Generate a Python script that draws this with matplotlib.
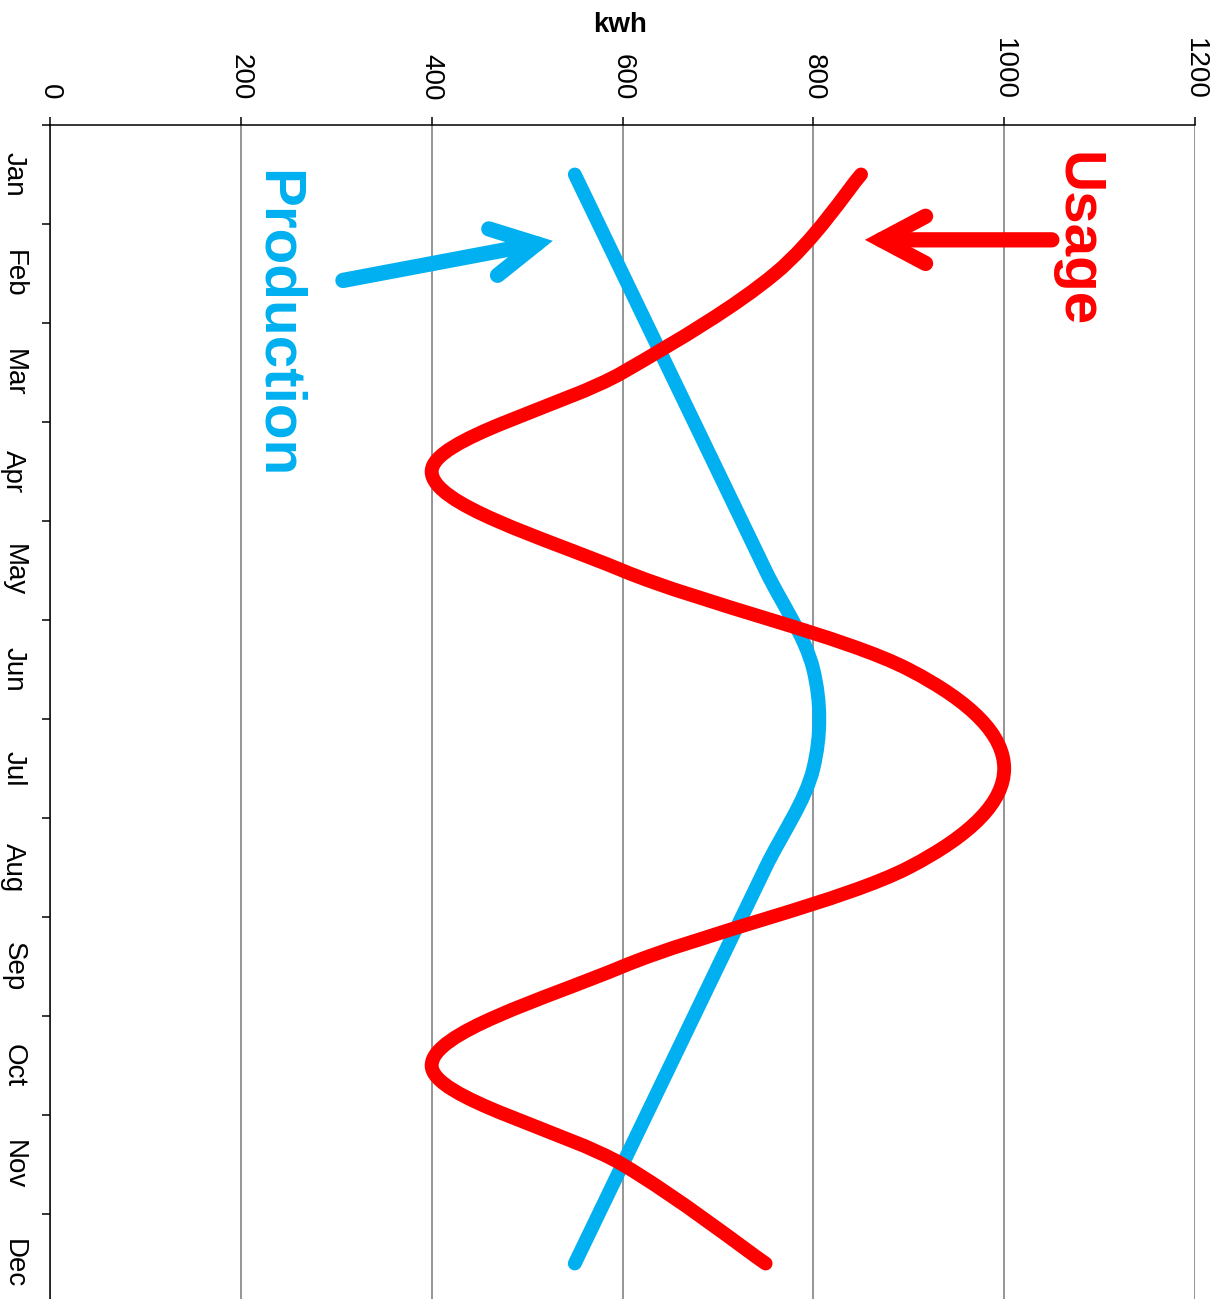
import numpy as np
import matplotlib.pyplot as plt
from matplotlib.path import Path
from matplotlib.patches import PathPatch
from matplotlib.ticker import FixedLocator, NullFormatter

plt.rcParams['font.family'] = ['Liberation Sans', 'DejaVu Sans']

months = ['Jan', 'Feb', 'Mar', 'Apr', 'May', 'Jun',
          'Jul', 'Aug', 'Sep', 'Oct', 'Nov', 'Dec']
usage = [850, 760, 600, 400, 600, 900, 1000, 900, 600, 400, 600, 750]
production = [550, 600, 650, 700, 750, 800, 800, 750, 700, 650, 600, 550]
kwh_ticks = [0, 200, 400, 600, 800, 1000, 1200]

RED = '#ff0000'
BLUE = '#00b0f0'


def smooth_path(values):
    # Catmull-Rom curve through (value, month index) as cubic beziers
    pts = np.column_stack([values, np.arange(len(values))]).astype(float)
    padded = np.vstack([pts[0], pts, pts[-1]])
    verts = [pts[0]]
    codes = [Path.MOVETO]
    for i in range(len(pts) - 1):
        p0, p1, p2, p3 = padded[i], padded[i + 1], padded[i + 2], padded[i + 3]
        verts += [p1 + (p2 - p0) / 6, p2 - (p3 - p1) / 6, p2]
        codes += [Path.CURVE4] * 3
    return Path(verts, codes)


fig = plt.figure(figsize=(12.2, 12.99), dpi=100)
ax = fig.add_axes([50 / 1220, -14 / 1299, 1145 / 1220, 1188 / 1299])

ax.set_xlim(0, 1200)
ax.set_ylim(11.5, -0.5)

for vals, col in [(production, BLUE), (usage, RED)]:
    ax.add_patch(PathPatch(smooth_path(vals), fill=False, edgecolor=col,
                           lw=10, capstyle='round', joinstyle='round', zorder=3))

# value axis on top, labels turned sideways
ax.xaxis.tick_top()
ax.set_xticks(kwh_ticks)
ax.set_xticklabels([str(t) for t in kwh_ticks], rotation=-90, fontsize=20)
ax.tick_params(axis='x', length=6, width=1.1, pad=12, color='black')
ax.grid(axis='x', color='#787878', lw=1.1)
ax.set_axisbelow(True)

# month labels centred in bands, tick marks between bands
ax.yaxis.set_major_locator(FixedLocator(range(12)))
ax.set_yticklabels(months, rotation=-90, va='center', fontsize=20)
ax.yaxis.set_minor_locator(FixedLocator(np.arange(-0.5, 12, 1)))
ax.yaxis.set_minor_formatter(NullFormatter())
ax.tick_params(axis='y', which='major', length=0, pad=17)
ax.tick_params(axis='y', which='minor', length=6, width=1.1, color='black')

for side in ['right', 'bottom']:
    ax.spines[side].set_visible(False)
for side in ['top', 'left']:
    ax.spines[side].set_linewidth(1.1)

fig.text(620 / 1220, 1 - 25 / 1299, 'kwh', ha='center', va='center',
         fontsize=20, fontweight='bold')

# series callouts
ax.text(1076, 0.66, 'Usage', color=RED, fontsize=42, fontweight='bold',
        rotation=-90, ha='center', va='center')
ax.text(237, 1.51, 'Production', color=BLUE, fontsize=42, fontweight='bold',
        rotation=-90, ha='center', va='center')

arrow = '->,head_length=1.6,head_width=0.85'
ax.annotate('', xy=(854, 0.66), xytext=(1050, 0.66),
            arrowprops=dict(arrowstyle=arrow, color=RED, lw=11, shrinkA=0,
                            shrinkB=0, joinstyle='miter', capstyle='round',
                            mutation_scale=20))
ax.annotate('', xy=(527, 0.67), xytext=(307, 1.07),
            arrowprops=dict(arrowstyle=arrow, color=BLUE, lw=11, shrinkA=0,
                            shrinkB=0, joinstyle='miter', capstyle='round',
                            mutation_scale=20))

fig.savefig('out.png', dpi=100)
